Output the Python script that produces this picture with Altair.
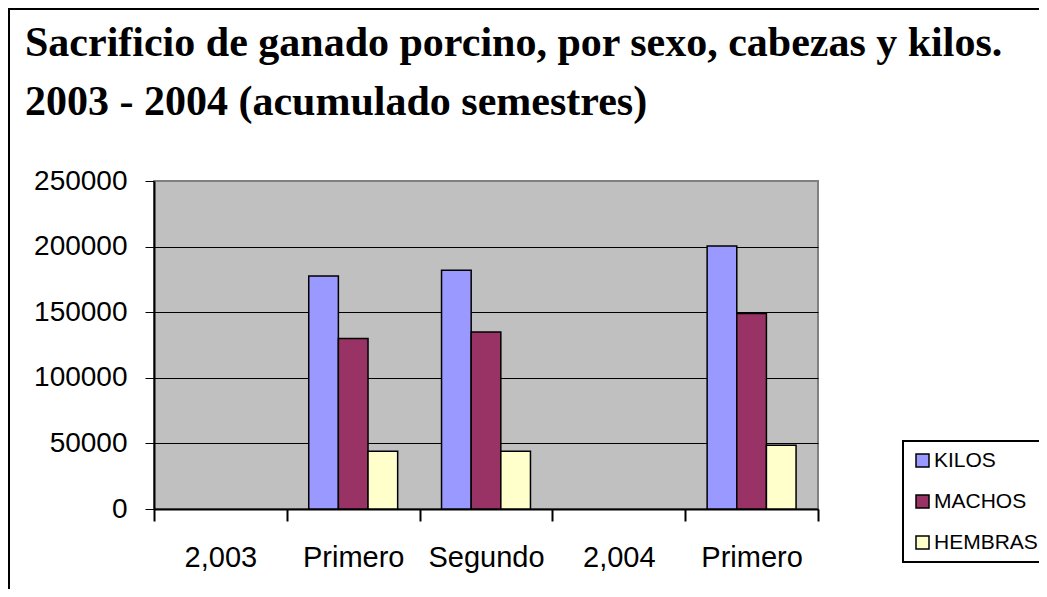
import altair as alt
import pandas as pd

categories = ["2,003", "Primero", "Segundo", "2,004", "Primero"]
series = ["KILOS", "MACHOS", "HEMBRAS"]
kilos = [None, 177500, 182000, None, 200500]
machos = [None, 130000, 135000, None, 149000]
hembras = [None, 44000, 44000, None, 48500]
colors = ["#9999FF", "#993366", "#FFFFCC"]
y_ticks = [0, 50000, 100000, 150000, 200000, 250000]
title_lines = ["Sacrificio de ganado porcino, por sexo, cabezas y kilos.",
               "2003 - 2004 (acumulado semestres)"]

rows = []
for s, vals in zip(series, [kilos, machos, hembras]):
    for i, v in enumerate(vals):
        if v is not None:
            rows.append({"pos": i, "serie": s, "valor": v})
df = pd.DataFrame(rows)

label_expr = "[" + ",".join("'%s'" % c for c in categories) + "][datum.value]"

W, H = 664, 328
PL, PT = 146, 173
PR = 1031 - PL - W
PB = 581 - PT - H

bars = alt.Chart(df).mark_bar(stroke="black", strokeWidth=1.5).encode(
    x=alt.X("pos:O",
            scale=alt.Scale(domain=list(range(len(categories))), paddingInner=0, paddingOuter=0),
            axis=alt.Axis(title=None, labelExpr=label_expr, labelAngle=0, tickBand="extent",
                          domainColor="black", domainWidth=2, tickColor="black", tickWidth=2,
                          tickSize=12, labelFont="Liberation Sans", labelFontSize=29,
                          labelColor="black", labelPadding=22, grid=False)),
    xOffset=alt.XOffset("serie:N", sort=series,
                        scale=alt.Scale(domain=series, paddingInner=0, paddingOuter=0.74)),
    y=alt.Y("valor:Q", scale=alt.Scale(domain=[0, 250000], nice=False),
            axis=alt.Axis(title=None, values=y_ticks, format="d",
                          domainColor="black", domainWidth=2, tickColor="black", tickWidth=1,
                          tickSize=9, labelFont="Liberation Sans", labelFontSize=28,
                          labelColor="black", labelPadding=18, grid=True,
                          gridColor={"condition": {"test": "datum.value === 250000", "value": "#808080"},
                                     "value": "black"},
                          gridWidth=1)),
    color=alt.Color("serie:N", sort=series, scale=alt.Scale(domain=series, range=colors),
                    legend=alt.Legend(title=None, orient="none", legendX=749, legendY=260,
                                      symbolType="square", symbolSize=169,
                                      symbolStrokeColor="black", symbolStrokeWidth=1.5,
                                      labelFont="Liberation Sans", labelFontSize=21,
                                      labelColor="black", strokeColor="black", fillColor="white",
                                      padding=9, rowPadding=19, labelOffset=1)),
)

frame_df = pd.DataFrame({"k": [0]})
top = alt.Chart(frame_df).mark_rule(color="black", strokeWidth=2).encode(
    x=alt.value(-PL), x2=alt.value(W + PR), y=alt.value(-PT + 1))
left = alt.Chart(frame_df).mark_rule(color="black", strokeWidth=2).encode(
    x=alt.value(-PL + 1), y=alt.value(-PT), y2=alt.value(H + PB))

chart = alt.layer(bars, top, left).properties(
    width=W, height=H,
    autosize=alt.AutoSizeParams(type="none"),
    padding={"left": PL, "top": PT, "right": PR, "bottom": PB},
    title=alt.TitleParams(text=title_lines, anchor="start", frame="group",
                          font="Liberation Serif", fontWeight="bold", fontSize=42,
                          lineHeight=59, color="black", dx=-129, baseline="top", offset=-117),
).configure_view(stroke="#808080", strokeWidth=2, fill="#C0C0C0"
).configure_legend(strokeWidth=2)

chart.save("out.html", embed_options={"renderer": "svg", "actions": False})
